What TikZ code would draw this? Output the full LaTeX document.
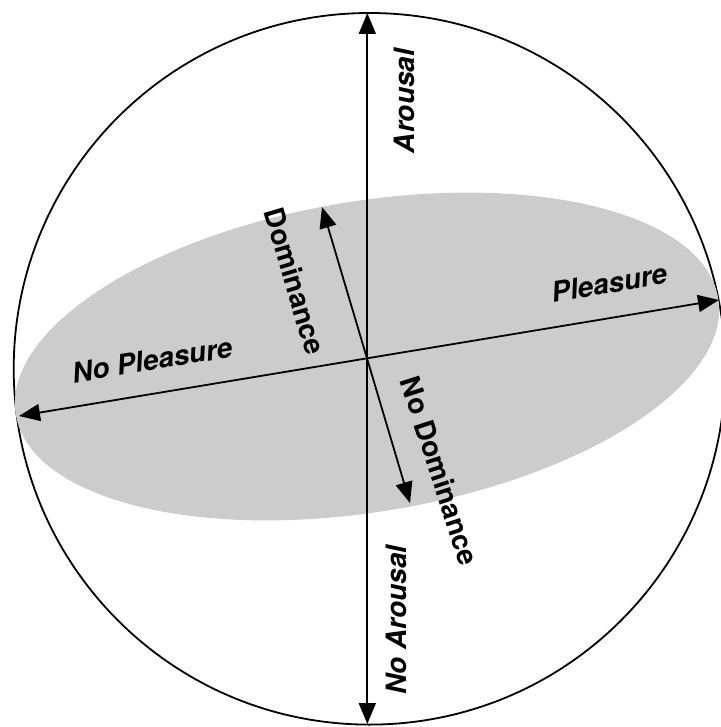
\documentclass[tikz,border=0pt]{standalone}
\usepackage{fontspec}
\setmainfont{TeX Gyre Heros}
\usetikzlibrary{arrows.meta}
\begin{document}
\begin{tikzpicture}[x=1pt,y=-1pt,
  axis/.style={line width=1.8pt,{Triangle[length=21pt,width=17pt]}-{Triangle[length=21pt,width=17pt]}},
  lbl/.style={inner sep=0pt,font=\fontsize{28}{32}\selectfont\bfseries\itshape},
  lblup/.style={inner sep=0pt,font=\fontsize{28}{32}\selectfont\bfseries}]
\useasboundingbox (0,0) rectangle (720,727);
\fill[white] (0,0) rectangle (720,727);
% outer sphere
\draw[line width=1.8pt] (369.5,368.8) circle[radius=355.8];
% plane
\fill[black!20, rotate around={9.4:(367,356.5)}] (367,356.5) ellipse[x radius=356, y radius=155.3];
% axis end points
\coordinate (atop) at (367.3,13);
\coordinate (abot) at (367.3,724);
\coordinate (pleft) at (19,416);
\coordinate (pright) at (719,300);
\coordinate (dtop) at (322,207);
\coordinate (dbot) at (410,503);
\draw[axis] (abot) -- (atop);
\draw[axis] (pleft) -- (pright);
\draw[axis] (dbot) -- (dtop);
% labels
\node[lbl, rotate=90] (arousal) at (404,101) {Arousal};
\node[lbl, rotate=90] (noarousal) at (396,620) {No Arousal};
\node[lbl, rotate=9.4] (pleasure) at (609,283) {Pleasure};
\node[lbl, rotate=9.4] (nopleasure) at (152,360) {No Pleasure};
\node[lblup, rotate=-73.4] (dominance) at (295,281) {Dominance};
\node[lblup, rotate=-72] (nodominance) at (440,471) {No Dominance};
\end{tikzpicture}
\end{document}
